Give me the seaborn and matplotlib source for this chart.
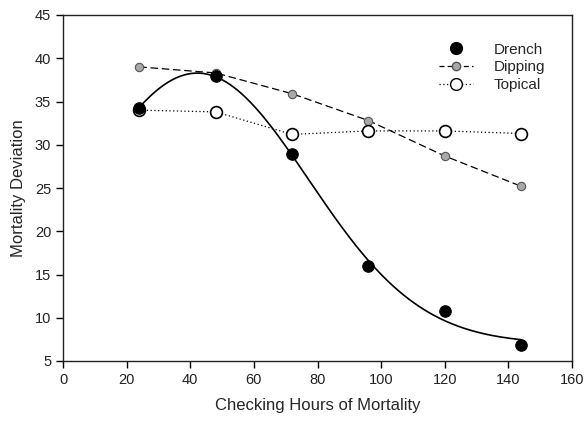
import numpy as np
import pandas as pd
import matplotlib
matplotlib.use("Agg")
import matplotlib.pyplot as plt
import seaborn as sns
from matplotlib.lines import Line2D

hours = [24, 48, 72, 96, 120, 144]
drench = [34.3, 37.9, 28.9, 16.0, 10.8, 6.8]
dipping = [39.0, 38.3, 35.9, 32.8, 28.7, 25.2]
topical = [34.0, 33.8, 31.2, 31.6, 31.6, 31.3]
x_ticks = [0, 20, 40, 60, 80, 100, 120, 140, 160]
y_ticks = [5, 10, 15, 20, 25, 30, 35, 40, 45]

sns.set_theme(style="white")
plt.rcParams['font.family'] = ['Liberation Sans', 'DejaVu Sans']

# Gaussian (4-parameter) fit to drench data: y = y0 + a*exp(-0.5*((x-x0)/b)^2)
xh = np.array(hours, float)
yd = np.array(drench, float)
best = None
for x0 in np.linspace(20, 70, 251):
    for b in np.linspace(10, 80, 351):
        g = np.exp(-0.5 * ((xh - x0) / b) ** 2)
        A = np.column_stack([np.ones_like(g), g])
        coef, *_ = np.linalg.lstsq(A, yd, rcond=None)
        r = np.sum((A @ coef - yd) ** 2)
        if best is None or r < best[0]:
            best = (r, x0, b, coef)
_, x0, b, coef = best
xf = np.linspace(24, 144, 300)
yf = coef[0] + coef[1] * np.exp(-0.5 * ((xf - x0) / b) ** 2)
fit = pd.DataFrame({"x": xf, "y": yf})

df = pd.DataFrame({"x": hours, "drench": drench, "dipping": dipping, "topical": topical})

fig = plt.figure(figsize=(5.84, 4.22), dpi=100)
ax = fig.add_axes([63/584, 61/422, 509/584, 346/422])

sns.lineplot(data=df, x="x", y="dipping", ax=ax, color="black", lw=0.9,
             dashes=False, linestyle=(0, (6, 3)), marker="o", markersize=6,
             markerfacecolor="#a8a8a8", markeredgecolor="#555555", markeredgewidth=0.8)
sns.lineplot(data=df, x="x", y="topical", ax=ax, color="black", lw=0.9,
             linestyle=(0, (1, 2)), marker="o", markersize=8.5,
             markerfacecolor="white", markeredgecolor="black", markeredgewidth=1.2)
sns.lineplot(data=fit, x="x", y="y", ax=ax, color="black", lw=1.2)
sns.scatterplot(data=df, x="x", y="drench", ax=ax, color="black", s=70,
                edgecolor="black", zorder=5)

ax.set_xlim(0, 160)
ax.set_ylim(5, 45)
ax.set_xticks(x_ticks)
ax.set_yticks(y_ticks)
ax.tick_params(axis="both", direction="out", length=5, width=1, labelsize=10.5,
               bottom=True, left=True, top=False, right=False, colors="black",
               labelcolor="#222222")
for s in ax.spines.values():
    s.set_color("#222222")
    s.set_linewidth(1.0)
ax.set_xlabel("Checking Hours of Mortality", fontsize=12, labelpad=8)
ax.set_ylabel("Mortality Deviation", fontsize=12, labelpad=6)

handles = [
    Line2D([], [], linestyle="none", marker="o", markersize=8.5, color="black"),
    Line2D([], [], color="black", lw=0.9, linestyle=(0, (4, 2.5)), marker="o",
           markersize=6, markerfacecolor="#a8a8a8", markeredgecolor="#555555"),
    Line2D([], [], color="black", lw=0.9, linestyle=(0, (1, 2)), marker="o",
           markersize=8.5, markerfacecolor="white", markeredgecolor="black"),
]
ax.legend(handles, ["Drench", "Dipping", "Topical"], loc="upper right",
          bbox_to_anchor=(0.975, 0.96), frameon=False, fontsize=11,
          handlelength=2.2, handletextpad=1.4, labelspacing=0.25)

fig.savefig("out.png", dpi=100)
